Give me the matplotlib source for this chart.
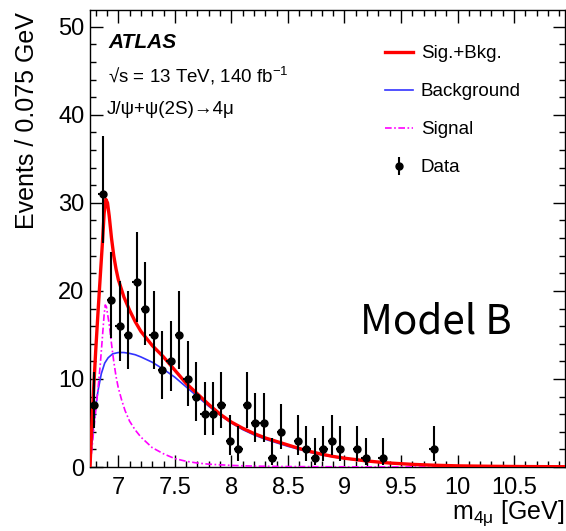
import numpy as np
import matplotlib
matplotlib.use("Agg")
import matplotlib.pyplot as plt
from matplotlib.ticker import MultipleLocator

plt.rcParams['font.family'] = ['Liberation Sans', 'DejaVu Sans']
plt.rcParams['mathtext.fontset'] = 'custom'
plt.rcParams['mathtext.rm'] = 'Liberation Sans'
plt.rcParams['mathtext.it'] = 'Liberation Sans:italic'

# ---- data ----
data_mass = [6.7875, 6.8625, 6.9375, 7.0125, 7.0875, 7.1625, 7.2375, 7.3125, 7.3875,
             7.4625, 7.5375, 7.6125, 7.6875, 7.7625, 7.8375, 7.9125, 7.9875, 8.0625,
             8.1375, 8.2125, 8.2875, 8.3625, 8.4375, 8.5875, 8.6625, 8.7375, 8.8125,
             8.8875, 8.9625, 9.1125, 9.1875, 9.3375, 9.7875]
data_counts = [7, 31, 19, 16, 15, 21, 18, 15, 11, 12, 15, 10, 8, 6, 6, 7, 3, 2,
               7, 5, 5, 1, 4, 3, 2, 1, 2, 3, 2, 2, 1, 1, 2]
bin_width = 0.075

sigbkg_x = [6.75, 6.76, 6.78, 6.80, 6.82, 6.84, 6.86, 6.875, 6.89, 6.905, 6.92, 6.94,
            6.96, 6.98, 7.0, 7.05, 7.1, 7.15, 7.2, 7.3, 7.4, 7.5, 7.6, 7.7, 7.8, 7.9,
            8.0, 8.1, 8.2, 8.3, 8.4, 8.5, 8.6, 8.7, 8.8, 8.9, 9.0, 9.2, 9.4, 9.6, 9.8,
            10.0, 10.3, 10.6, 10.95]
sigbkg_y = [0.0, 3.0, 8.3, 13.1, 17.4, 21.5, 25.5, 28.8, 30.4, 30.0, 28.5, 26.0,
            24.0, 22.5, 21.3, 19.3, 17.8, 16.5, 15.4, 13.8, 12.5, 11.0, 9.5, 8.3, 7.1, 6.0,
            5.1, 4.4, 3.8, 3.3, 2.9, 2.5, 2.1, 1.75, 1.45, 1.2, 1.0, 0.68, 0.45, 0.3, 0.2,
            0.13, 0.08, 0.05, 0.03]

bkg_x = [6.75, 6.76, 6.78, 6.80, 6.82, 6.85, 6.88, 6.91, 6.95, 7.0, 7.05, 7.1, 7.15,
         7.2, 7.3, 7.4, 7.5, 7.6, 7.7, 7.8, 7.9, 8.0, 8.1, 8.2, 8.3, 8.4, 8.5, 8.6,
         8.7, 8.8, 8.9, 9.0, 9.2, 9.4, 9.6, 9.8, 10.0, 10.3, 10.6, 10.95]
bkg_y = [0.0, 1.8, 4.5, 6.8, 8.6, 10.6, 11.8, 12.4, 12.85, 13.0, 13.0, 12.9, 12.75,
         12.5, 11.9, 11.1, 10.2, 9.1, 8.0, 6.9, 5.9, 5.0, 4.25, 3.65, 3.15, 2.75, 2.35, 2.0,
         1.65, 1.38, 1.15, 0.95, 0.64, 0.43, 0.28, 0.19, 0.12, 0.07, 0.045, 0.03]

sig_x = [6.75, 6.76, 6.78, 6.80, 6.82, 6.84, 6.86, 6.875, 6.885, 6.895, 6.92, 6.94,
         6.96, 6.98, 7.0, 7.03, 7.06, 7.1, 7.15, 7.2, 7.3, 7.4, 7.5, 7.6, 7.7, 7.8,
         8.0, 8.2, 8.5, 9.0, 10.0, 10.95]
sig_y = [0.0, 1.2, 3.8, 6.3, 8.8, 11.5, 14.8, 17.3, 18.4, 18.2, 16.2, 14.0,
         12.0, 10.3, 9.0, 7.6, 6.4, 5.2, 4.2, 3.4, 2.2, 1.5, 0.95, 0.65, 0.45, 0.32,
         0.18, 0.1, 0.05, 0.02, 0.01, 0.0]

legend_labels = ["Sig.+Bkg.", "Background", "Signal", "Data"]

# ---- figure ----
W, H = 566, 531
fig = plt.figure(figsize=(W / 100, H / 100), dpi=100)
ax_l, ax_r, ax_t, ax_b = 90, 565, 10, 467
ax = fig.add_axes([ax_l / W, 1 - ax_b / H, (ax_r - ax_l) / W, (ax_b - ax_t) / H])

# Poisson (Gehrels) asymmetric errors
n = np.array(data_counts, dtype=float)
up = np.sqrt(n + 0.75) + 1.0
low = n - n * (1 - 1 / (9 * n) - 1 / (3 * np.sqrt(n))) ** 3

l_sb, = ax.plot(sigbkg_x, sigbkg_y, color='#ff0000', lw=2.4, zorder=4)
l_b, = ax.plot(bkg_x, bkg_y, color='#3333ff', lw=1.2, zorder=3)
l_s, = ax.plot(sig_x, sig_y, color='#ff00ff', lw=1.2, ls=(0, (4, 1.5, 1, 1.5)), zorder=3)
ax.errorbar(data_mass, data_counts, yerr=[low, up], xerr=bin_width / 2,
            fmt='o', color='black', ms=5, elinewidth=1.5, capsize=0, zorder=5)
proxy = ax.errorbar([], [], yerr=[], fmt='o', color='black', ms=5, elinewidth=1.5, capsize=0)

ax.set_xlim(6.75, 10.95)
ax.set_ylim(0, 51.9)
ax.xaxis.set_major_locator(MultipleLocator(0.5))
ax.xaxis.set_minor_locator(MultipleLocator(0.1))
ax.yaxis.set_major_locator(MultipleLocator(10))
ax.yaxis.set_minor_locator(MultipleLocator(2))
ax.set_xticks([7, 7.5, 8, 8.5, 9, 9.5, 10, 10.5])
ax.set_xticklabels(['7', '7.5', '8', '8.5', '9', '9.5', '10', '10.5'])
ax.tick_params(which='both', direction='in', top=True, right=True, width=1, labelsize=17)
ax.tick_params(which='major', length=9)
ax.tick_params(which='minor', length=4.5)
ax.tick_params(axis='x', pad=7)
ax.tick_params(axis='y', pad=4)
for s in ax.spines.values():
    s.set_linewidth(1.0)

fig.text(27 / W, 1 - 12 / H, "Events / 0.075 GeV", rotation=90, ha='center', va='top', fontsize=18)
fig.text(565 / W, 1 - 513 / H, r"m$_{\mathregular{4μ}}$ [GeV]", ha='right', va='center', fontsize=18)

fig.text(108 / W, 1 - 42 / H, "ATLAS", fontsize=15, fontweight='bold', fontstyle='italic', va='center')
fig.text(108 / W, 1 - 76 / H, r"√s = 13 TeV, 140 fb$^{\mathregular{-1}}$", fontsize=13.5, va='center')
fig.text(107 / W, 1 - 110 / H, "J/ψ+ψ(2S)→4μ", fontsize=13.5, va='center')

fig.text(360 / W, 1 - 322 / H, "Model B", fontsize=29, va='center', ha='left',
         family=['Noto Sans CJK SC', 'DejaVu Sans'])

leg = ax.legend([l_sb, l_b, l_s, proxy], legend_labels, loc='upper left',
                bbox_to_anchor=((385 - ax_l) / (ax_r - ax_l), 1 - (45 - ax_t) / (ax_b - ax_t)),
                frameon=False, fontsize=13.5, handlelength=1.5, handletextpad=0.4,
                labelspacing=1.12, borderpad=0, borderaxespad=0)

fig.savefig("out.png", dpi=100)
